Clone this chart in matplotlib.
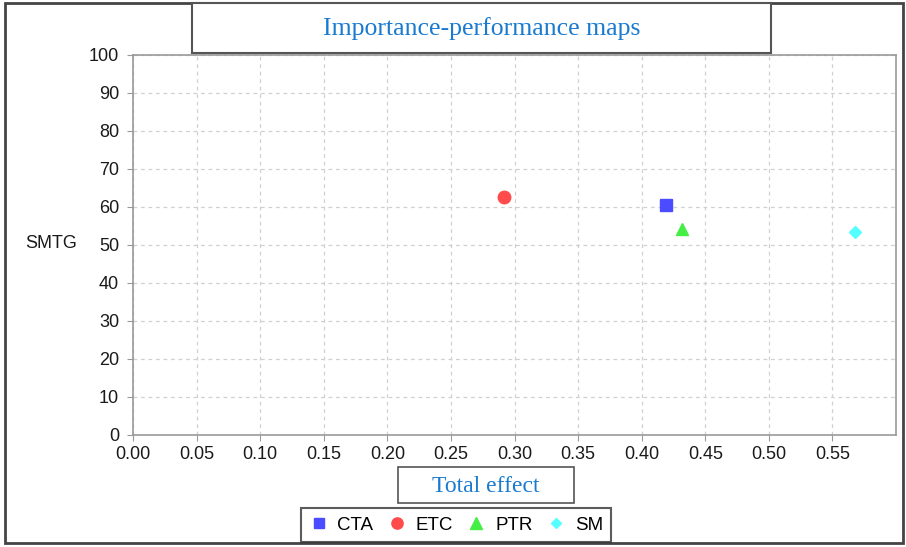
import matplotlib
matplotlib.use("Agg")
import matplotlib.pyplot as plt
from matplotlib.patches import Rectangle
from matplotlib.lines import Line2D

categories = ["CTA", "ETC", "PTR", "SM"]
total_effect = [0.419, 0.292, 0.432, 0.568]
performance = [60.5, 62.5, 54.2, 53.4]
markers = ["s", "o", "^", "D"]
colors = ["#4b4bff", "#ff4b4b", "#44ee44", "#55ffff"]
sizes = [8, 9, 9, 6]
xticks = [0.00, 0.05, 0.10, 0.15, 0.20, 0.25, 0.30, 0.35, 0.40, 0.45, 0.50, 0.55]
yticks = [0, 10, 20, 30, 40, 50, 60, 70, 80, 90, 100]

fig = plt.figure(figsize=(9.06, 5.47), dpi=100)
ax = fig.add_axes([0.1468, 0.2048, 0.8422, 0.6947])

for c, x, y, m, col, s in zip(categories, total_effect, performance, markers, colors, sizes):
    ax.plot([x], [y], linestyle="none", marker=m, color=col, markersize=s, label=c)

ax.set_xlim(0, 0.6)
ax.set_ylim(0, 100)
ax.set_xticks(xticks)
ax.set_xticklabels([f"{t:.2f}" for t in xticks])
ax.set_yticks(yticks)
ax.set_yticklabels([str(t) for t in yticks])
ax.tick_params(labelsize=13, length=4, color="#999999")
ax.tick_params(axis="x", pad=4)
ax.tick_params(axis="y", pad=6)
for lab in ax.get_xticklabels() + ax.get_yticklabels():
    lab.set_family("Liberation Sans")
    lab.set_color("#1a1a1a")
for sp in ax.spines.values():
    sp.set_color("#999999")
    sp.set_linewidth(1.2)
ax.grid(True, linestyle=(0, (3, 3)), color="#d0d0d0", linewidth=0.9)
ax.set_axisbelow(True)

fig.text(25 / 906, 1 - 244 / 547, "SMTG", fontsize=13, family="Liberation Sans",
         va="center", ha="left", color="#1a1a1a")

# outer frame
fig.patches.append(Rectangle((5 / 906, 4 / 547), 898 / 906, 540 / 547, transform=fig.transFigure,
                             fill=False, edgecolor="#444444", linewidth=2))

# title box
fig.patches.append(Rectangle((192 / 906, 1 - 53 / 547), 579 / 906, 50 / 547, transform=fig.transFigure,
                             facecolor="white", edgecolor="#555555", linewidth=1.5, zorder=5))
fig.text(482 / 906, 1 - 29 / 547, "Importance-performance maps", fontsize=18.5,
         family="Liberation Serif", color="#1a7ad0", ha="center", va="center", zorder=6)

# x-axis title box
fig.patches.append(Rectangle((398 / 906, 1 - 503 / 547), 176 / 906, 36 / 547, transform=fig.transFigure,
                             facecolor="white", edgecolor="#555555", linewidth=1.2, zorder=5))
fig.text(486 / 906, 1 - 486 / 547, "Total effect", fontsize=17,
         family="Liberation Serif", color="#1a7ad0", ha="center", va="center", zorder=6)

handles = [Line2D([], [], linestyle="none", marker=m, color=col, markersize=s * 0.9)
           for m, col, s in zip(markers, colors, sizes)]
leg = fig.legend(handles, categories, loc="center", bbox_to_anchor=(456 / 906, 1 - 525 / 547),
                 ncol=4, frameon=True, fancybox=False, handlelength=1.0,
                 handletextpad=0.5, columnspacing=0.75, borderpad=0.45,
                 prop={"family": "Liberation Sans", "size": 13.5})
leg.get_frame().set_edgecolor("#333333")
leg.get_frame().set_linewidth(1.5)

fig.savefig("out.png", dpi=100)
